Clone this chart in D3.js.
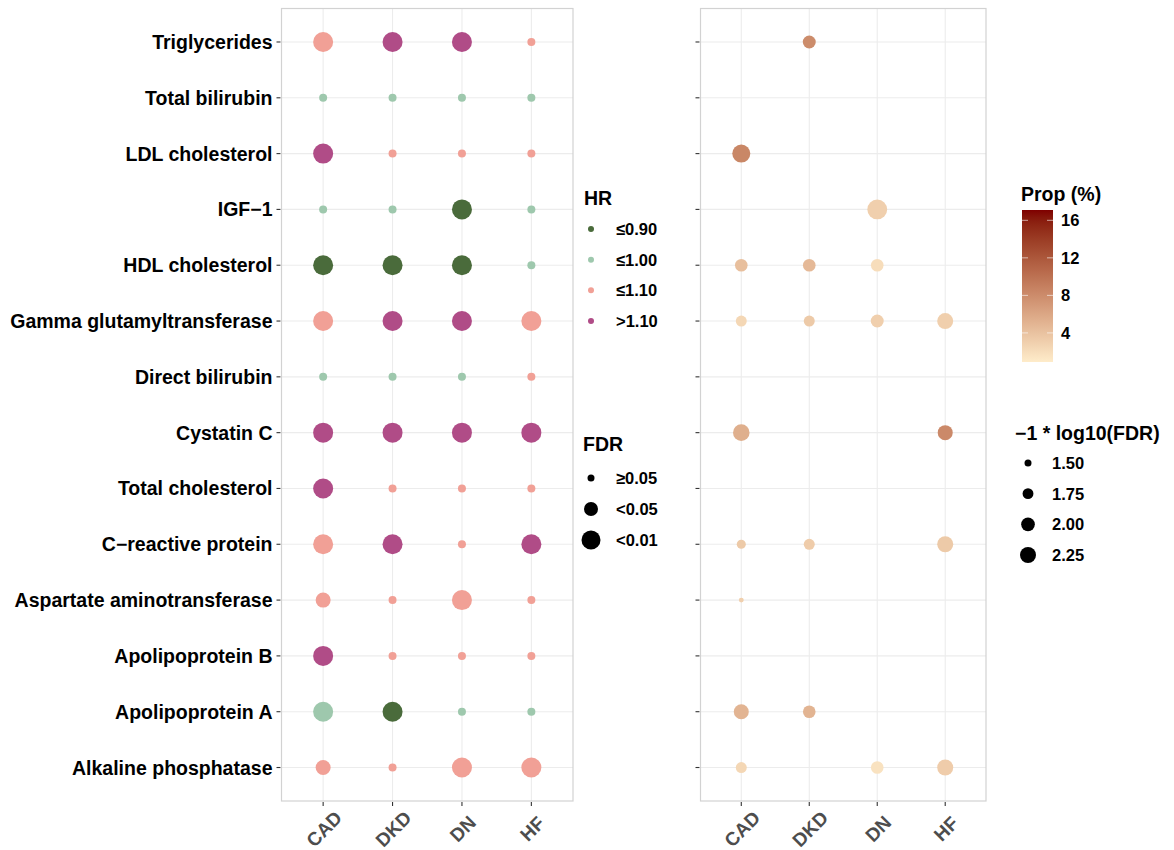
<!DOCTYPE html>
<html><head><meta charset="utf-8">
<script src="https://cdn.jsdelivr.net/npm/d3@7"></script>
<style>
body{margin:0;background:#fff;}
text{font-family:"Liberation Sans",Arial,sans-serif;font-weight:bold;}
</style></head>
<body>
<svg id="chart" width="1174" height="850"></svg>
<script>
// ---------- data ----------
const biomarkers = ["Triglycerides","Total bilirubin","LDL cholesterol","IGF\u22121","HDL cholesterol",
  "Gamma glutamyltransferase","Direct bilirubin","Cystatin C","Total cholesterol","C\u2212reactive protein",
  "Aspartate aminotransferase","Apolipoprotein B","Apolipoprotein A","Alkaline phosphatase"];
const diseases = ["CAD","DKD","DN","HF"];
const hrLevels = ["\u22640.90","\u22641.00","\u22641.10",">1.10"];
const fdrLevels = ["\u22650.05","<0.05","<0.01"];

// HR group per biomarker (top to bottom), one array per disease
const hrCAD = ["\u22641.10","\u22641.00",">1.10","\u22641.00","\u22640.90","\u22641.10","\u22641.00",">1.10",">1.10","\u22641.10","\u22641.10",">1.10","\u22641.00","\u22641.10"];
const hrDKD = [">1.10","\u22641.00","\u22641.10","\u22641.00","\u22640.90",">1.10","\u22641.00",">1.10","\u22641.10",">1.10","\u22641.10","\u22641.10","\u22640.90","\u22641.10"];
const hrDN  = [">1.10","\u22641.00","\u22641.10","\u22640.90","\u22640.90",">1.10","\u22641.00",">1.10","\u22641.10","\u22641.10","\u22641.10","\u22641.10","\u22641.00","\u22641.10"];
const hrHF  = ["\u22641.10","\u22641.00","\u22641.10","\u22641.00","\u22641.00","\u22641.10","\u22641.10",">1.10","\u22641.10",">1.10","\u22641.10","\u22641.10","\u22641.00","\u22641.10"];
// FDR group per biomarker
const fdrCAD = ["<0.01","\u22650.05","<0.01","\u22650.05","<0.01","<0.01","\u22650.05","<0.01","<0.01","<0.01","<0.05","<0.01","<0.01","<0.05"];
const fdrDKD = ["<0.01","\u22650.05","\u22650.05","\u22650.05","<0.01","<0.01","\u22650.05","<0.01","\u22650.05","<0.01","\u22650.05","\u22650.05","<0.01","\u22650.05"];
const fdrDN  = ["<0.01","\u22650.05","\u22650.05","<0.01","<0.01","<0.01","\u22650.05","<0.01","\u22650.05","\u22650.05","<0.01","\u22650.05","\u22650.05","<0.01"];
const fdrHF  = ["\u22650.05","\u22650.05","\u22650.05","\u22650.05","\u22650.05","<0.01","\u22650.05","<0.01","\u22650.05","<0.01","\u22650.05","\u22650.05","\u22650.05","<0.01"];

// right panel: proportion (%) and -log10(FDR)
const propBiomarker = ["Triglycerides","LDL cholesterol","IGF\u22121","HDL cholesterol","HDL cholesterol","HDL cholesterol",
  "Gamma glutamyltransferase","Gamma glutamyltransferase","Gamma glutamyltransferase","Gamma glutamyltransferase",
  "Cystatin C","Cystatin C","C\u2212reactive protein","C\u2212reactive protein","C\u2212reactive protein",
  "Aspartate aminotransferase","Apolipoprotein A","Apolipoprotein A",
  "Alkaline phosphatase","Alkaline phosphatase","Alkaline phosphatase"];
const propDisease = ["DKD","CAD","DN","CAD","DKD","DN",
  "CAD","DKD","DN","HF",
  "CAD","HF","CAD","DKD","HF",
  "CAD","CAD","DKD",
  "CAD","DN","HF"];
const propValue = [8.0,8.4,3.0,4.2,4.6,2.0,
  2.4,3.4,3.0,3.0,
  5.4,8.2,3.4,3.2,3.4,
  3.0,5.0,5.0,
  2.4,1.6,3.2];
const propLogFDR = [1.93,2.5,2.75,1.9,1.9,1.9,
  1.76,1.76,1.93,2.25,
  2.32,2.14,1.62,1.76,2.25,
  1.41,2.14,1.9,
  1.76,1.9,2.25];
const sizeBreaks = [1.50,1.75,2.00,2.25];
const colorTicks = [4,8,12,16];

// ---------- layout ----------
const svg = d3.select("#chart");
const yTop = 8.5, yBot = 801;
const L = {x0:281.5, x1:573};
const R = {x0:700.5, x1:986};

const y = d3.scalePoint().domain(biomarkers).range([yTop,yBot]).padding(0.6);
const xL = d3.scalePoint().domain(diseases).range([L.x0,L.x1]).padding(0.6);
const xR = d3.scalePoint().domain(diseases).range([R.x0,R.x1]).padding(0.6);

const hrColor = d3.scaleOrdinal().domain(hrLevels).range(["#4a6b3b","#9ec8ad","#f1a096","#b04c87"]);
const fdrSize = d3.scaleOrdinal().domain(fdrLevels).range([4,7.5,10]);
const areaScale = d3.scaleLinear().domain([1.5,2.25]).range([12.25,64]);
const rSize = v => Math.sqrt(Math.max(2,areaScale(v)));
const propColor = d3.scaleLinear().domain([0.9,17.1]).range(["#feecca","#7f0000"]).interpolate(d3.interpolateLab);

function panel(x, xs){
  const g = svg.append("g");
  g.append("rect").attr("x",x.x0).attr("y",yTop).attr("width",x.x1-x.x0).attr("height",yBot-yTop)
    .attr("fill","#fff");
  g.selectAll(".gy").data(biomarkers).join("line")
    .attr("x1",x.x0).attr("x2",x.x1).attr("y1",d=>y(d)).attr("y2",d=>y(d))
    .attr("stroke","#ececec").attr("stroke-width",1.1);
  g.selectAll(".gx").data(diseases).join("line")
    .attr("x1",d=>xs(d)).attr("x2",d=>xs(d)).attr("y1",yTop).attr("y2",yBot)
    .attr("stroke","#ececec").attr("stroke-width",1.1);
  g.selectAll(".ty").data(biomarkers).join("line")
    .attr("x1",x.x0-5).attr("x2",x.x0-1).attr("y1",d=>y(d)).attr("y2",d=>y(d))
    .attr("stroke","#333").attr("stroke-width",1.1);
  g.selectAll(".tx").data(diseases).join("line")
    .attr("x1",d=>xs(d)).attr("x2",d=>xs(d)).attr("y1",yBot+1).attr("y2",yBot+5)
    .attr("stroke","#333").attr("stroke-width",1.1);
  g.selectAll(".lx").data(diseases).join("text")
    .attr("transform",d=>`translate(${xs(d)+1},${yBot+28}) rotate(-45)`)
    .attr("text-anchor","middle").attr("dominant-baseline","central")
    .attr("font-size",19).attr("fill","#4d4d4d").text(d=>d);
  return g;
}

const gL = panel(L, xL);
const gR = panel(R, xR);

svg.append("g").selectAll("text").data(biomarkers).join("text")
  .attr("x",L.x0-9).attr("y",d=>y(d)).attr("text-anchor","end").attr("dominant-baseline","central")
  .attr("font-size",19.5).attr("fill","#000").text(d=>d);

const hrByDisease = {CAD:hrCAD,DKD:hrDKD,DN:hrDN,HF:hrHF};
const fdrByDisease = {CAD:fdrCAD,DKD:fdrDKD,DN:fdrDN,HF:fdrHF};
const leftData = [];
diseases.forEach(d=>biomarkers.forEach((b,i)=>leftData.push({d,b,hr:hrByDisease[d][i],fdr:fdrByDisease[d][i]})));
gL.append("g").selectAll("circle").data(leftData).join("circle")
  .attr("cx",e=>xL(e.d)).attr("cy",e=>y(e.b)).attr("r",e=>fdrSize(e.fdr))
  .attr("fill",e=>hrColor(e.hr));

const rightData = propBiomarker.map((b,i)=>({b,d:propDisease[i],p:propValue[i],f:propLogFDR[i]}));
gR.append("g").selectAll("circle").data(rightData).join("circle")
  .attr("cx",e=>xR(e.d)).attr("cy",e=>y(e.b)).attr("r",e=>rSize(e.f))
  .attr("fill",e=>propColor(e.p));

[L,R].forEach(x=>svg.append("rect").attr("x",x.x0).attr("y",yTop).attr("width",x.x1-x.x0).attr("height",yBot-yTop)
  .attr("fill","none").attr("stroke","#d2d2d2").attr("stroke-width",1.2));

// ---------- legends ----------
const lg1 = svg.append("g");
lg1.append("text").attr("x",584).attr("y",198).attr("dominant-baseline","central").attr("font-size",19.5).text("HR");
const hrY = d3.scalePoint().domain(hrLevels).range([229,321]);
lg1.selectAll("circle").data(hrLevels).join("circle").attr("cx",591).attr("cy",d=>hrY(d)).attr("r",3)
  .attr("fill",d=>hrColor(d));
lg1.selectAll(".t").data(hrLevels).join("text").attr("x",616).attr("y",d=>hrY(d)).attr("dominant-baseline","central")
  .attr("font-size",16.5).text(d=>d);

const lg2 = svg.append("g");
lg2.append("text").attr("x",583).attr("y",444).attr("dominant-baseline","central").attr("font-size",19.5).text("FDR");
const fdrY = d3.scalePoint().domain(fdrLevels).range([478,540]);
lg2.selectAll("circle").data(fdrLevels).join("circle").attr("cx",591).attr("cy",d=>fdrY(d))
  .attr("r",d=>fdrSize(d)-0.5).attr("fill","#000");
lg2.selectAll(".t").data(fdrLevels).join("text").attr("x",616).attr("y",d=>fdrY(d)).attr("dominant-baseline","central")
  .attr("font-size",16.5).text(d=>d);

const lg3 = svg.append("g");
lg3.append("text").attr("x",1021).attr("y",194).attr("dominant-baseline","central").attr("font-size",19.5).text("Prop (%)");
const cbTop = 210, cbBot = 362, cbX = 1022, cbW = 31;
const cbScale = d3.scaleLinear().domain(propColor.domain()).range([cbBot,cbTop]);
const defs = svg.append("defs");
const grad = defs.append("linearGradient").attr("id","cb").attr("x1",0).attr("y1",1).attr("x2",0).attr("y2",0);
d3.range(0,1.0001,0.05).forEach(t=>{
  const v = propColor.domain()[0] + t*(propColor.domain()[1]-propColor.domain()[0]);
  grad.append("stop").attr("offset",t).attr("stop-color",propColor(v));
});
lg3.append("rect").attr("x",cbX).attr("y",cbTop).attr("width",cbW).attr("height",cbBot-cbTop).attr("fill","url(#cb)");
colorTicks.forEach(t=>{
  lg3.append("line").attr("x1",cbX).attr("x2",cbX+6).attr("y1",cbScale(t)).attr("y2",cbScale(t)).attr("stroke","#fff").attr("stroke-opacity",0.6);
  lg3.append("line").attr("x1",cbX+cbW-6).attr("x2",cbX+cbW).attr("y1",cbScale(t)).attr("y2",cbScale(t)).attr("stroke","#fff").attr("stroke-opacity",0.6);
  lg3.append("text").attr("x",1061).attr("y",cbScale(t)).attr("dominant-baseline","central").attr("font-size",16.5).text(t);
});

const lg4 = svg.append("g");
lg4.append("text").attr("x",1015).attr("y",433).attr("dominant-baseline","central").attr("font-size",19.5).text("\u22121 * log10(FDR)");
const sY = d3.scalePoint().domain(sizeBreaks).range([463,555]);
lg4.selectAll("circle").data(sizeBreaks).join("circle").attr("cx",1028).attr("cy",d=>sY(d)).attr("r",d=>rSize(d)).attr("fill","#000");
lg4.selectAll(".t").data(sizeBreaks).join("text").attr("x",1052).attr("y",d=>sY(d)).attr("dominant-baseline","central")
  .attr("font-size",16.5).text(d=>d.toFixed(2));
</script>
</body></html>
